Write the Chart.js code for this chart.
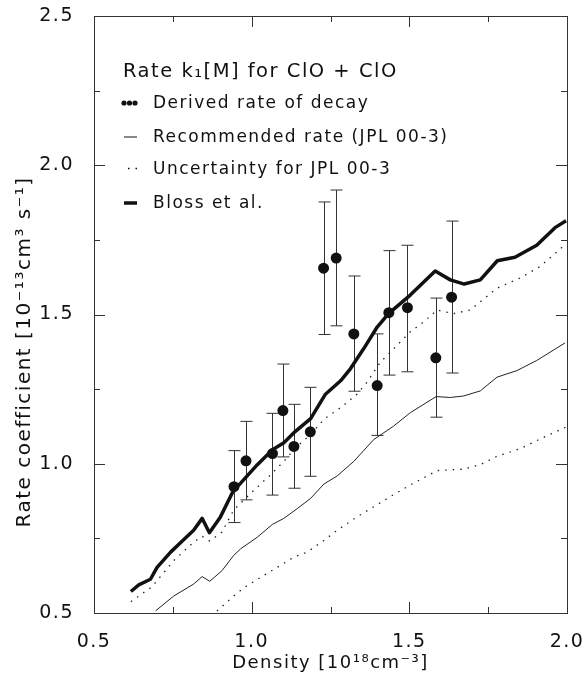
<!DOCTYPE html>
<html>
<head>
<meta charset="utf-8">
<script src="https://cdn.jsdelivr.net/npm/chart.js@4.4.0/dist/chart.umd.min.js"></script>
<style>
  html, body { margin: 0; padding: 0; background: #fff; }
</style>
</head>
<body>
<canvas id="rateChart" width="584" height="676"></canvas>
<script>
//////// Data ////////

// derived rate of decay (points with error bars)
const derivedX = [0.944, 0.982, 1.066, 1.099, 1.134, 1.186, 1.228, 1.268, 1.324, 1.398, 1.435, 1.494, 1.584, 1.634];
const derivedY = [0.923, 1.010, 1.034, 1.178, 1.058, 1.107, 1.655, 1.689, 1.435, 1.262, 1.506, 1.523, 1.355, 1.558];
const derivedHigh = [1.044, 1.142, 1.169, 1.334, 1.199, 1.256, 1.877, 1.917, 1.629, 1.435, 1.714, 1.732, 1.555, 1.813];
const derivedLow = [0.803, 0.879, 0.895, 1.023, 0.918, 0.958, 1.433, 1.462, 1.243, 1.095, 1.297, 1.308, 1.156, 1.304];

// Bloss et al.
const blossX = [0.617, 0.642, 0.679, 0.700, 0.743, 0.785, 0.816, 0.843, 0.866, 0.901, 0.943, 0.965, 1.018, 1.066, 1.102, 1.134, 1.187, 1.234, 1.282, 1.313, 1.355, 1.398, 1.434, 1.503, 1.582, 1.630, 1.674, 1.725, 1.779, 1.835, 1.904, 1.962, 1.997];
const blossY = [0.572, 0.594, 0.613, 0.653, 0.704, 0.746, 0.777, 0.817, 0.769, 0.822, 0.912, 0.935, 0.997, 1.047, 1.070, 1.104, 1.151, 1.233, 1.278, 1.318, 1.385, 1.458, 1.503, 1.565, 1.646, 1.616, 1.602, 1.616, 1.680, 1.692, 1.732, 1.791, 1.814];

// Recommended rate (JPL 00-3)
const jplX = [0.695, 0.753, 0.816, 0.843, 0.867, 0.906, 0.943, 0.965, 1.018, 1.066, 1.102, 1.145, 1.187, 1.229, 1.271, 1.324, 1.387, 1.450, 1.503, 1.585, 1.630, 1.672, 1.725, 1.778, 1.841, 1.904, 1.994];
const jplY = [0.507, 0.557, 0.597, 0.622, 0.606, 0.642, 0.693, 0.715, 0.754, 0.797, 0.817, 0.850, 0.884, 0.932, 0.959, 1.008, 1.081, 1.126, 1.171, 1.225, 1.222, 1.227, 1.244, 1.290, 1.312, 1.346, 1.405];

// Uncertainty for JPL 00-3, upper and lower
const jplUpX = [0.617, 0.684, 0.753, 0.816, 0.843, 0.867, 0.906, 0.943, 0.997, 1.060, 1.102, 1.139, 1.187, 1.229, 1.282, 1.334, 1.366, 1.408, 1.440, 1.503, 1.545, 1.588, 1.640, 1.693, 1.778, 1.851, 1.915, 1.994];
const jplUpY = [0.538, 0.588, 0.676, 0.737, 0.757, 0.741, 0.771, 0.845, 0.901, 0.963, 1.008, 1.053, 1.098, 1.149, 1.188, 1.233, 1.273, 1.340, 1.374, 1.442, 1.475, 1.515, 1.503, 1.515, 1.588, 1.622, 1.661, 1.734];
const jplLowX = [0.890, 0.943, 0.976, 1.028, 1.081, 1.134, 1.176, 1.229, 1.271, 1.334, 1.387, 1.440, 1.498, 1.588, 1.672, 1.725, 1.778, 1.851, 1.915, 1.995];
const jplLowY = [0.507, 0.557, 0.585, 0.619, 0.653, 0.687, 0.704, 0.743, 0.777, 0.822, 0.856, 0.890, 0.926, 0.977, 0.982, 0.997, 1.025, 1.050, 1.083, 1.122];

// axes
const xRange = [0.5, 2.0];
const yRange = [0.5, 2.5];
const tickStep = 0.25; // labels only every 0.5

const toPoints = (xs, ys) => xs.map((x, i) => ({ x: x, y: ys[i] }));
const isMajor = (v) => Math.abs(v * 2 - Math.round(v * 2)) < 1e-6;

const FONT = "DejaVu Sans";
const INK = "#111";
const yTitle = "Rate coefficient [10\u207b\u00b9\u00b3cm\u00b3 s\u207b\u00b9]";

//////// Plugins ////////

// small letter spacing like the original lettering
const spacing = {
  id: "spacing",
  beforeDraw(chart) {
    chart.ctx.letterSpacing = "1.5px";
  },
};

// vertical error bars for the derived points
const errorBars = {
  id: "errorBars",
  beforeDatasetsDraw(chart) {
    const { ctx, scales } = chart;
    ctx.save();
    ctx.strokeStyle = "#333";
    ctx.lineWidth = 1;
    derivedX.forEach((x, i) => {
      const px = Math.round(scales.x.getPixelForValue(x)) + 0.5;
      const top = scales.y.getPixelForValue(derivedHigh[i]);
      const bot = scales.y.getPixelForValue(derivedLow[i]);
      ctx.beginPath();
      ctx.moveTo(px, top);
      ctx.lineTo(px, bot);
      ctx.moveTo(px - 6, top);
      ctx.lineTo(px + 6, top);
      ctx.moveTo(px - 6, bot);
      ctx.lineTo(px + 6, bot);
      ctx.stroke();
    });
    ctx.restore();
  },
};

// frame on all four sides with inward ticks
const frameTicks = {
  id: "frameTicks",
  afterDraw(chart) {
    const { ctx, chartArea: a, scales } = chart;
    ctx.save();
    ctx.strokeStyle = "#333";
    ctx.lineWidth = 1;
    ctx.strokeRect(a.left + 0.5, a.top + 0.5, a.right - a.left, a.bottom - a.top);
    ctx.beginPath();
    scales.x.ticks.forEach((t) => {
      const px = Math.round(scales.x.getPixelForValue(t.value)) + 0.5;
      const len = isMajor(t.value) ? 11 : 6;
      ctx.moveTo(px, a.bottom);
      ctx.lineTo(px, a.bottom - len);
      ctx.moveTo(px, a.top);
      ctx.lineTo(px, a.top + len);
    });
    scales.y.ticks.forEach((t) => {
      const py = Math.round(scales.y.getPixelForValue(t.value)) + 0.5;
      const len = isMajor(t.value) ? 11 : 6;
      ctx.moveTo(a.left, py);
      ctx.lineTo(a.left + len, py);
      ctx.moveTo(a.right, py);
      ctx.lineTo(a.right - len, py);
    });
    ctx.stroke();

    // y title sits a bit below the middle of the axis in the original
    ctx.translate(25, 352);
    ctx.rotate(-Math.PI / 2);
    ctx.fillStyle = INK;
    ctx.font = "20px " + FONT;
    ctx.textAlign = "center";
    ctx.textBaseline = "middle";
    ctx.fillText(yTitle, 0, 0);
    ctx.restore();
  },
};

// legend block inside the plot
const legendBox = {
  id: "legendBox",
  afterDraw(chart) {
    const { ctx, chartArea: a } = chart;
    const x0 = a.left + 29;
    const tx = a.left + 59;
    ctx.save();
    ctx.fillStyle = INK;
    ctx.strokeStyle = INK;
    ctx.textBaseline = "alphabetic";
    ctx.textAlign = "left";

    ctx.font = "19.5px " + FONT;
    ctx.fillText("Rate k\u2081[M] for ClO + ClO", x0, 77);

    ctx.font = "17px " + FONT;
    // derived points
    [0, 5.5, 11].forEach((d) => {
      ctx.beginPath();
      ctx.arc(x0 + 1 + d, 103, 2.6, 0, Math.PI * 2);
      ctx.fill();
    });
    ctx.fillText("Derived rate of decay", tx, 108);

    // recommended
    ctx.lineWidth = 1;
    ctx.beginPath();
    ctx.moveTo(x0 + 1, 137);
    ctx.lineTo(x0 + 14, 137);
    ctx.stroke();
    ctx.fillText("Recommended rate (JPL 00-3)", tx, 142);

    // uncertainty
    ctx.setLineDash([1.5, 6]);
    ctx.lineWidth = 1.3;
    ctx.beginPath();
    ctx.moveTo(x0 + 5, 168.5);
    ctx.lineTo(x0 + 18, 168.5);
    ctx.stroke();
    ctx.setLineDash([]);
    ctx.fillText("Uncertainty for JPL 00-3", tx, 174);

    // Bloss
    ctx.lineWidth = 3.5;
    ctx.beginPath();
    ctx.moveTo(x0 + 1, 203);
    ctx.lineTo(x0 + 14, 203);
    ctx.stroke();
    ctx.fillText("Bloss et al.", tx, 208);
    ctx.restore();
  },
};

//////// Chart ////////

const ctx = document.getElementById("rateChart");
const rateChart = new Chart(ctx, {
  type: "scatter",
  data: {
    datasets: [
      {
        label: "Derived rate of decay",
        data: toPoints(derivedX, derivedY),
        pointRadius: 5.5,
        pointBackgroundColor: INK,
        pointBorderWidth: 0,
        showLine: false,
      },
      {
        label: "Bloss et al.",
        data: toPoints(blossX, blossY),
        showLine: true,
        borderColor: INK,
        borderWidth: 3.5,
        pointRadius: 0,
        tension: 0,
        borderJoinStyle: "round",
      },
      {
        label: "Recommended rate (JPL 00-3)",
        data: toPoints(jplX, jplY),
        showLine: true,
        borderColor: "#222",
        borderWidth: 1,
        pointRadius: 0,
        tension: 0,
      },
      {
        label: "Uncertainty for JPL 00-3",
        data: toPoints(jplUpX, jplUpY),
        showLine: true,
        borderColor: "#222",
        borderWidth: 1.3,
        borderDash: [1.5, 6],
        pointRadius: 0,
        tension: 0,
      },
      {
        label: "Uncertainty lower",
        data: toPoints(jplLowX, jplLowY),
        showLine: true,
        borderColor: "#222",
        borderWidth: 1.3,
        borderDash: [1.5, 6],
        pointRadius: 0,
        tension: 0,
      },
    ],
  },
  options: {
    responsive: false,
    animation: false,
    devicePixelRatio: 1,
    layout: {
      padding: { top: 16, right: 17, left: 0, bottom: 0 },
    },
    scales: {
      x: {
        type: "linear",
        min: xRange[0],
        max: xRange[1],
        afterFit: (s) => {
          s.height = 63;
          s.paddingLeft = 0;
          s.paddingRight = 0;
        },
        grid: { display: false },
        border: { display: true, color: "#333" },
        ticks: {
          stepSize: tickStep,
          autoSkip: false,
          maxRotation: 0,
          padding: 10,
          color: INK,
          font: { family: FONT, size: 19 },
          callback: (v) => (isMajor(v) ? v.toFixed(1) : ""),
        },
        title: {
          display: true,
          text: "Density [10\u00b9\u2078cm\u207b\u00b3]",
          color: INK,
          font: { family: FONT, size: 18 },
          padding: { top: 0, bottom: 2 },
        },
      },
      y: {
        type: "linear",
        min: yRange[0],
        max: yRange[1],
        afterFit: (s) => {
          s.width = 94;
          s.paddingTop = 0;
          s.paddingBottom = 0;
        },
        grid: { display: false },
        border: { display: true, color: "#333" },
        ticks: {
          stepSize: tickStep,
          autoSkip: false,
          padding: 12,
          color: INK,
          font: { family: FONT, size: 19 },
          callback: (v) => (isMajor(v) ? v.toFixed(1) : ""),
        },
        title: { display: false },
      },
    },
    plugins: {
      legend: { display: false },
      tooltip: { enabled: false },
    },
  },
  plugins: [spacing, errorBars, frameTicks, legendBox],
});
</script>
</body>
</html>
